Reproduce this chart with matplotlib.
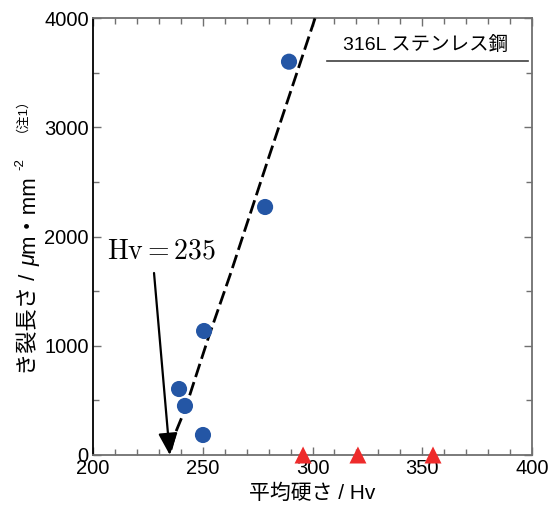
import matplotlib
matplotlib.use("Agg")
import matplotlib.pyplot as plt
from matplotlib.ticker import MultipleLocator

plt.rcParams['font.family'] = ['Liberation Sans', 'Noto Sans CJK JP', 'DejaVu Sans']

# Data
hv_blue = [289.3, 278.4, 250.6, 239.2, 241.9, 250.1]
crack_blue = [3600, 2270, 1135, 604, 449, 183]
hv_red = [295.7, 320.7, 354.9]
crack_red = [0, 0, 0]
hv_fit = [235.5, 237.5, 242.0, 252.5, 262.5, 280.0, 301.2]
crack_fit = [50, 200, 420, 1070, 1650, 2720, 4000]
threshold_hv = 235
arrow_start = (227.8, 1666)
x_ticks = [200, 250, 300, 350, 400]
y_ticks = [0, 1000, 2000, 3000, 4000]

W, H = 551, 514
fig = plt.figure(figsize=(W/100, H/100), dpi=100)
ax = fig.add_axes([93/W, 1-455/H, (532-93)/W, (455-18)/H])

ax.plot(hv_fit, crack_fit, color='black', lw=2.0, dashes=(5, 1.9), zorder=3)
ax.scatter(hv_blue, crack_blue, s=135, color='#2456A5', edgecolors='none', zorder=4)
ax.scatter(hv_red, crack_red, s=150, marker='^', color='#EE2B2B', edgecolors='none',
           zorder=5, clip_on=False)

ax.annotate('', xy=(threshold_hv, 0), xytext=arrow_start,
            arrowprops=dict(arrowstyle='-|>,head_length=0.95,head_width=0.42',
                            mutation_scale=14, color='black', lw=1.6,
                            shrinkA=0, shrinkB=0), zorder=6)
ax.text(206.4, 1803, r'$\mathrm{Hv} = 235$', fontsize=20, ha='left', va='baseline',
        math_fontfamily='cm')

ax.set_xlim(200, 400)
ax.set_ylim(0, 4000)
ax.set_xticks(x_ticks)
ax.set_xticklabels([str(v) for v in x_ticks])
ax.set_yticks(y_ticks)
ax.set_yticklabels([str(v) for v in y_ticks])
ax.xaxis.set_minor_locator(MultipleLocator(10))
ax.yaxis.set_minor_locator(MultipleLocator(500))

gray = '#707070'
ax.tick_params(which='both', direction='in', top=True, right=True, color=gray,
               labelsize=14.5, labelcolor='black', width=1)
ax.tick_params(which='major', length=6, pad=3)
ax.tick_params(which='minor', length=4)
for side in ['bottom', 'top', 'right']:
    ax.spines[side].set_color(gray)
    ax.spines[side].set_linewidth(1.3)
ax.spines['left'].set_color('black')
ax.spines['left'].set_linewidth(1.3)

ax.set_xlabel('平均硬さ / Hv', fontsize=15, labelpad=4)

ax.text(351.7, 3753, '316L ステンレス鋼', fontsize=14, ha='center', va='center')
ax.plot([306.6, 398.2], [3606, 3606], color='#404040', lw=1.2)

# y label built from pieces (rotated, running upward)
fig.canvas.draw()
renderer = fig.canvas.get_renderer()
base_x = 35.0
cur_y = 375.0
pieces = [
    ('き裂長さ / ', dict(fontsize=16), 0, 2),
    ('μ', dict(fontsize=16, family='Liberation Sans', style='italic'), 0, 0),
    ('m・mm', dict(fontsize=16), 0, 6),
    ('-2', dict(fontsize=9.5), -12, 0),
]
for txt, kw, dx, gap in pieces:
    t = fig.text((base_x + dx)/W, 1-cur_y/H, txt, rotation=90, rotation_mode='anchor',
                 ha='left', va='baseline', **kw)
    ext = t.get_window_extent(renderer)
    cur_y -= ext.height + gap
fig.text(15/W, 1-108/H, '（注1）', rotation=90, fontsize=9.5, ha='center', va='center')

fig.savefig('out.png', dpi=100)
